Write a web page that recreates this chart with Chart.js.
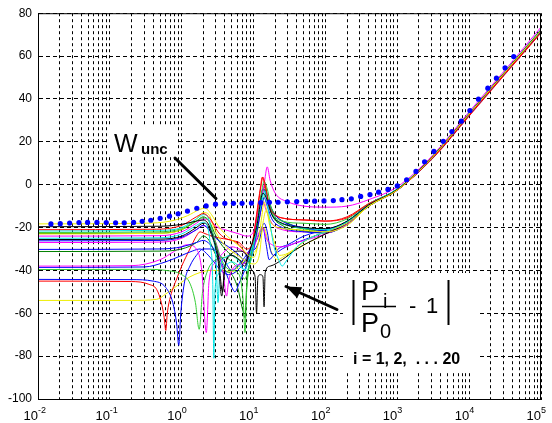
<!DOCTYPE html>
<html>
<head>
<meta charset="utf-8">
<script src="https://cdn.jsdelivr.net/npm/chart.js@4.4.1/dist/chart.umd.min.js"></script>
<style>
  html, body { margin: 0; padding: 0; background: #fff; }
  #wrap { width: 552px; height: 423px; }
</style>
</head>
<body>
<div id="wrap"><canvas id="c" width="552" height="423"></canvas></div>
<script>
// axis structure
const decades = [-2, -1, 0, 1, 2, 3, 4, 5];
const minorSteps = [1, 2, 3, 4, 5, 6, 7, 8, 9];
const yTicks = [80, 60, 40, 20, 0, -20, -40, -60, -80, -100];

// W_unc (dotted), log10 of frequency and dB
const wuncExp = [-1.82,-1.69,-1.56,-1.43,-1.31,-1.18,-1.05,-0.92,-0.80,-0.67,-0.55,-0.43,-0.30,-0.17,-0.05,0.08,0.21,0.34,0.47,0.60,0.72,0.84,0.97,1.10,1.22,1.34,1.47,1.60,1.73,1.85,1.98,2.11,2.23,2.36,2.49,2.62,2.74,2.87,3.00,3.13,3.26,3.38,3.51,3.64,3.76,3.89,4.01,4.13,4.26,4.38,4.50,4.62];
const wuncDb = [-18.3,-18.2,-17.9,-17.7,-17.6,-17.6,-17.7,-17.8,-17.8,-17.6,-17.1,-16.6,-15.7,-14.7,-13.6,-12.3,-11.0,-9.9,-9.1,-8.7,-8.7,-8.7,-8.6,-8.4,-8.2,-8.2,-8.0,-7.9,-7.8,-7.7,-7.6,-7.4,-7.0,-6.6,-5.5,-4.6,-3.5,-2.2,-0.6,2.3,6.2,10.7,15.5,20.2,24.8,29.6,34.6,39.9,45.0,49.7,54.5,59.8];

// |Pi/P0 - 1| curves, [Hz, dB]
const c1 = [[0.01,-18.3],[0.3,-18],[0.7,-17],[1.2,-14.5],[1.8,-11.5],[2.1,-11],[2.6,-14],[3.2,-19],[4,-23],[5.5,-27],[7,-30],[8.5,-33],[10,-34],[11.5,-28],[13,-15],[14,-8],[15,-11],[17,-17],[22,-20],[40,-21],[100,-22],[200,-19],[400,-10],[1000,-2.5],[3162,13.3],[1e4,33],[31623,52.5],[1e5,72]];
const c2 = [[0.01,-19.6],[0.5,-19.4],[1,-18.5],[1.6,-17],[2,-16.5],[2.4,-19],[2.8,-26],[3.2,-35],[3.6,-52],[4,-38],[5,-33],[6.3,-35],[7.5,-38],[9,-30],[11,-20],[13.5,-4],[15,-6],[18,-14],[25,-18],[50,-20],[100,-20.5],[200,-17],[400,-9.5],[1000,-2.2],[3162,13.5],[1e4,33.2],[31623,52.7],[1e5,72.2]];
const c3 = [[0.01,-21],[0.4,-20.8],[1,-19],[1.6,-15],[2,-13.5],[2.5,-16],[3.2,-22],[4,-25],[5,-26],[6.3,-27],[8,-30],[9.5,-28],[11,-15],[12.5,-2],[13.5,3.5],[14.5,0],[16.5,-10],[20,-14],[30,-16],[60,-16.5],[100,-17],[200,-15.5],[400,-9],[1000,-2.5],[3162,12.8],[1e4,32.5],[31623,52],[1e5,71]];
const c4 = [[0.01,-21.6],[0.5,-21.3],[1,-20],[1.6,-16],[2,-14],[2.3,-15],[2.6,-22],[3,-35],[3.2,-55],[3.4,-40],[4,-34],[5,-33],[6.3,-36],[7.5,-40],[9,-32],[11,-20],[13,-6],[14.5,-3],[16,-12],[19,-28],[23,-36],[25,-38],[28,-36],[40,-29],[70,-24],[100,-22],[200,-17],[400,-9],[1000,-2],[3162,13.5],[1e4,33.3],[31623,52.8],[1e5,72.5]];
const c5 = [[0.01,-22.3],[0.5,-22],[1,-20.5],[1.6,-17],[2,-15.5],[2.4,-17],[2.8,-24],[3.3,-32],[4,-38],[5,-40],[6.3,-42],[7.2,-55],[7.6,-69],[8,-50],[9,-35],[11,-20],[13,-3],[14,1.5],[15.5,-2],[18,-12],[25,-17],[50,-18],[100,-18.5],[200,-16],[400,-9],[1000,-2],[3162,13.5],[1e4,33],[31623,52.5],[1e5,72]];
const c6 = [[0.01,-23],[0.5,-22.7],[1,-21],[1.6,-16],[2,-13],[2.4,-14],[2.8,-20],[3.5,-26],[4.5,-30],[6,-33],[8,-36],[10,-37],[12,-33],[13.5,-18],[15,-12],[17,-20],[20,-28],[23,-33],[30,-32],[60,-25],[100,-22],[200,-18],[400,-10],[1000,-2.5],[3162,13],[1e4,33],[31623,52.5],[1e5,72]];
const c7 = [[0.01,-24],[0.5,-23.8],[1,-22],[1.6,-18],[2,-16],[2.5,-17],[3.2,-20],[4,-21],[5,-22],[6.3,-23],[8,-24],[10,-22],[12,-10],[14,0],[15.5,8.3],[17,2],[20,-4],[30,-8],[50,-10],[100,-10.5],[200,-10],[400,-7],[1000,-1],[3162,14],[1e4,34],[31623,53.5],[1e5,73.5]];
const c8 = [[0.01,-25],[0.5,-24.8],[1,-23],[1.6,-19],[2,-17.5],[2.3,-20],[2.5,-28],[2.7,-45],[2.8,-81],[2.9,-50],[3.2,-42],[4,-38],[5,-36],[6.3,-38],[8,-40],[9.5,-33],[11,-20],[13,-8],[14,-4],[16,-10],[20,-16],[30,-19],[60,-20.5],[100,-21],[200,-17.5],[400,-9.5],[1000,-2.3],[3162,13.2],[1e4,32.8],[31623,52.3],[1e5,71.8]];
const c9 = [[0.01,-25.6],[0.5,-25.4],[1,-24],[1.6,-20],[2,-18],[2.3,-19],[2.7,-25],[3.2,-32],[3.7,-50],[4,-38],[5,-32],[6.3,-31],[8,-33],[9.5,-40],[10.5,-43],[11,-60],[11.5,-43],[12.5,-42],[13.5,-43],[14,-57],[14.5,-41],[17,-38],[25,-35],[40,-30],[100,-23],[200,-18],[400,-10],[1000,-2.5],[3162,13],[1e4,32.8],[31623,52.2],[1e5,71.8]];
const c10 = [[0.01,-26.2],[0.5,-26],[1,-24.5],[1.6,-21],[2,-19],[2.4,-21],[3,-25],[4,-28],[5,-30],[6.3,-33],[8,-36],[10,-30],[12,-12],[13.5,-2],[15,-5],[18,-12],[25,-17],[50,-20],[100,-21.5],[200,-18],[400,-9.5],[1000,-2.4],[3162,13],[1e4,32.7],[31623,52.2],[1e5,71.5]];
const c11 = [[0.01,-27],[0.5,-26.8],[1,-25],[1.6,-21],[2,-19],[2.5,-22],[3.2,-30],[3.8,-42],[4.2,-52],[4.5,-45],[5.5,-38],[7,-37],[8.5,-35],[10,-30],[12,-22],[13.5,-20],[15,-25],[18,-28],[25,-29],[40,-27],[100,-23],[200,-18.5],[400,-10],[1000,-2.5],[3162,13],[1e4,33],[31623,52.5],[1e5,72.3]];
const c12 = [[0.01,-30.2],[0.5,-30],[1,-29],[1.6,-27],[2,-26],[2.5,-28],[3.2,-33],[4,-40],[5,-48],[5.5,-50],[6.3,-46],[7.5,-40],[9,-32],[11,-22],[13,-10],[14,-6],[15.5,-10],[18,-16],[25,-20],[50,-22],[100,-22.5],[200,-18.5],[400,-10],[1000,-2.5],[3162,12.8],[1e4,32.5],[31623,52],[1e5,71.3]];
const c13 = [[0.01,-31.2],[0.5,-31],[1,-30],[1.6,-27],[2,-24],[2.4,-26],[3,-33],[4,-40],[5,-42],[6,-48],[7,-58],[7.6,-62],[8,-48],[9,-35],[11,-22],[13,-6],[14,-2],[15.5,-6],[18,-14],[25,-19],[50,-21.5],[100,-22.5],[200,-18.5],[400,-10],[1000,-2.5],[3162,13],[1e4,32.7],[31623,52.3],[1e5,71.8]];
const c14 = [[0.01,-38],[0.2,-37.8],[0.5,-35],[0.8,-31],[1.2,-28],[1.6,-30],[1.9,-40],[2.2,-69],[2.4,-45],[3,-36],[4,-31],[5,-29],[6.3,-30],[8,-32],[10,-28],[12,-16],[13.5,-8],[15,-12],[18,-18],[25,-21],[50,-22],[100,-22],[200,-18],[400,-9.8],[1000,-2.3],[3162,13.3],[1e4,33],[31623,52.6],[1e5,72.4]];
const c15 = [[0.01,-38.6],[0.3,-38.4],[0.6,-36],[1,-33],[1.4,-31],[1.8,-30],[2.2,-32],[2.8,-36],[3.5,-40],[4.5,-42],[6,-40],[7.5,-36],[9,-31],[10.5,-30],[12,-26],[13.5,-20],[15,-28],[16.5,-35],[19,-33],[25,-30],[40,-27],[70,-24],[100,-22],[200,-18],[400,-10],[1000,-2.6],[3162,12.8],[1e4,32.5],[31623,52],[1e5,71.5]];
const c16 = [[0.01,-39.6],[0.3,-39.5],[0.6,-40],[1,-42],[1.3,-46],[1.55,-55],[1.75,-67.5],[1.95,-50],[2.3,-40],[3,-35],[4,-34],[5,-36],[6.3,-40],[7.5,-44],[9,-36],[11,-24],[13,-10],[14.5,-5],[16,-9],[20,-16],[30,-19],[60,-21],[100,-21.5],[200,-18],[400,-9.8],[1000,-2.4],[3162,13],[1e4,33],[31623,52.5],[1e5,72]];
const c17 = [[0.01,-44.2],[0.2,-44.3],[0.4,-45],[0.6,-48],[0.75,-55],[0.85,-65],[0.91,-75],[0.97,-60],[1.1,-45],[1.3,-38],[1.6,-33],[2,-30],[2.5,-30],[3.2,-32],[4,-36],[5,-40],[6,-38],[7.5,-34],[9,-30],[11,-26],[13,-20],[14,-18],[15.5,-22],[17,-30],[19,-33],[22,-30],[30,-28],[50,-24],[100,-21],[200,-17.5],[400,-9.5],[1000,-2.3],[3162,13.2],[1e4,32.8],[31623,52.3],[1e5,71.7]];
const c18 = [[0.01,-45],[0.2,-45.2],[0.35,-46.5],[0.45,-49],[0.52,-55],[0.57,-62],[0.6,-68],[0.63,-60],[0.7,-52],[0.85,-44],[1,-38],[1.3,-30],[1.6,-24],[1.8,-22],[2,-22.5],[2.6,-24],[3.5,-25],[5,-26],[6.3,-28],[8,-32],[9.5,-28],[11,-14],[12.5,-1],[13.2,3.5],[14,1],[15.5,-8],[18,-13],[25,-15.5],[50,-16.5],[100,-17],[200,-15],[400,-8.8],[1000,-2.2],[3162,12.5],[1e4,32],[31623,51.5],[1e5,70.8]];
const c19 = [[0.01,-54],[0.2,-54],[0.45,-53.5],[0.6,-51],[0.8,-48],[1,-45.5],[1.3,-43],[1.8,-41],[2.5,-40],[3.5,-40],[5,-40.5],[6.3,-38],[7.5,-35],[9,-33],[11,-30],[13,-22],[14,-20],[15.5,-25],[18,-32],[22,-35],[25,-34],[40,-30],[100,-23],[200,-18.5],[400,-10],[1000,-2.6],[3162,12.8],[1e4,32.5],[31623,52],[1e5,71.5]];
const c20 = [[0.01,-22.8],[0.5,-22.6],[1,-21],[1.6,-17],[2,-15],[2.4,-17],[3,-24],[4,-30],[5,-33],[6.3,-35],[8,-37],[9.5,-32],[11,-18],[13,-4],[14.5,-1],[16,-7],[20,-14],[30,-18],[60,-21],[100,-22],[200,-18],[400,-9.7],[1000,-2.4],[3162,13.1],[1e4,32.9],[31623,52.4],[1e5,72.1]];

const BLUE = '#0000ff', GREEN = '#008000', LIME = '#33cc33', RED = '#ff0000',
      CYAN = '#00e5e5', MAG = '#ff00ff', YEL = '#eeee00', BLK = '#000000';
const curves = [c1, c2, c3, c4, c5, c6, c7, c8, c9, c10, c11, c12, c13, c14, c15, c16, c17, c18, c19, c20];
const curveColors = [YEL, BLK, RED, CYAN, LIME, YEL, MAG, CYAN, BLK, BLUE, MAG, BLUE, GREEN, MAG, BLUE, LIME, BLUE, RED, YEL, GREEN];

const FONT = 'Arial, "Liberation Sans", sans-serif';

const datasets = [{
    label: 'Wunc',
    data: wuncExp.map((e, i) => ({ x: Math.pow(10, e), y: wuncDb[i] })),
    showLine: false,
    pointRadius: 2.6,
    pointBackgroundColor: BLUE,
    pointBorderColor: BLUE,
    pointBorderWidth: 0
}];
curves.forEach((c, i) => {
    datasets.push({
        label: 'P' + (i + 1),
        data: c.map(p => ({ x: p[0], y: p[1] })),
        borderColor: curveColors[i],
        borderWidth: 1,
        pointRadius: 0,
        cubicInterpolationMode: 'monotone',
        fill: false
    });
});

// white label boxes under the annotations
const labelBoxes = {
    id: 'labelBoxes',
    beforeDatasetsDraw(chart) {
        const ctx = chart.ctx;
        ctx.save();
        ctx.fillStyle = '#fff';
        ctx.fillRect(109, 127, 68, 30);
        ctx.fillRect(343, 273, 137, 99);
        ctx.restore();
    }
};

function arrowLine(ctx, x1, y1, x2, y2, head) {
    ctx.beginPath();
    ctx.moveTo(x1, y1);
    ctx.lineTo(x2, y2);
    ctx.stroke();
    if (!head) return;
    const dx = x2 - x1, dy = y2 - y1, len = Math.hypot(dx, dy);
    const ux = dx / len, uy = dy / len;
    const bx = x2 - ux * 15, by = y2 - uy * 15;
    ctx.beginPath();
    ctx.moveTo(x2, y2);
    ctx.lineTo(bx - uy * 6, by + ux * 6);
    ctx.lineTo(bx + uy * 6, by - ux * 6);
    ctx.closePath();
    ctx.fill();
}

const annotations = {
    id: 'annotations',
    afterDraw(chart) {
        const { ctx, chartArea, scales } = chart;
        ctx.save();
        // frame
        ctx.strokeStyle = '#000';
        ctx.lineWidth = 1;
        ctx.setLineDash([]);
        ctx.strokeRect(chartArea.left + 0.5, chartArea.top + 0.5,
            chartArea.right - chartArea.left - 1, chartArea.bottom - chartArea.top);

        // x tick labels 10^n
        ctx.fillStyle = '#000';
        decades.forEach(e => {
            const px = scales.x.getPixelForValue(Math.pow(10, e));
            ctx.font = '13px ' + FONT;
            ctx.textAlign = 'right';
            ctx.textBaseline = 'alphabetic';
            ctx.fillText('10', px, chartArea.bottom + 21);
            ctx.font = '9px ' + FONT;
            ctx.textAlign = 'left';
            ctx.fillText(String(e), px, chartArea.bottom + 14);
        });

        // W_unc label + pointer
        ctx.textAlign = 'left';
        ctx.font = '25px ' + FONT;
        ctx.fillText('W', 114, 152);
        ctx.font = 'bold 15px ' + FONT;
        ctx.fillText('unc', 141, 154);
        ctx.lineWidth = 3;
        ctx.lineCap = 'round';
        arrowLine(ctx, 175, 158, 216, 198.5, false);

        // |Pi/P0 - 1| label + arrow
        arrowLine(ctx, 337, 309.5, 286, 286.5, true);
        ctx.lineWidth = 2;
        ctx.lineCap = 'butt';
        ctx.beginPath();
        ctx.moveTo(353.5, 280); ctx.lineTo(353.5, 325);
        ctx.moveTo(448.5, 280); ctx.lineTo(448.5, 325);
        ctx.stroke();
        ctx.lineWidth = 1.3;
        ctx.beginPath();
        ctx.moveTo(362, 306.5); ctx.lineTo(396, 306.5);
        ctx.stroke();
        ctx.font = '27px ' + FONT;
        ctx.fillText('P', 361, 300);
        ctx.fillText('P', 361, 332);
        ctx.font = '20px ' + FONT;
        ctx.fillText('i', 383, 308);
        ctx.fillText('0', 380, 338);
        ctx.font = '22px ' + FONT;
        ctx.fillText('-', 409, 313);
        ctx.fillText('1', 426, 313);
        ctx.font = 'bold 16px ' + FONT;
        ctx.fillText('i = 1, 2,  . . . 20', 353, 364);
        ctx.restore();
    }
};

new Chart(document.getElementById('c'), {
    type: 'line',
    data: { datasets },
    options: {
        responsive: false,
        animation: false,
        devicePixelRatio: 1,
        layout: { padding: { top: 12, right: 11, left: 0, bottom: 0 } },
        plugins: { legend: { display: false }, tooltip: { enabled: false } },
        scales: {
            x: {
                type: 'logarithmic',
                min: 0.01,
                max: 1e5,
                afterBuildTicks: scale => {
                    const t = [];
                    decades.forEach(e => {
                        minorSteps.forEach(m => {
                            const v = m * Math.pow(10, e);
                            if (v <= 1e5 * 1.0001) t.push({ value: v });
                        });
                    });
                    scale.ticks = t;
                },
                afterFit: scale => { scale.height = 24; },
                ticks: { display: false },
                grid: { color: '#000', lineWidth: 1, drawTicks: false },
                border: { display: true, color: '#000', dash: [3, 3] }
            },
            y: {
                min: -100,
                max: 80,
                afterBuildTicks: scale => { scale.ticks = yTicks.map(v => ({ value: v })); },
                afterFit: scale => { scale.width = 38; },
                ticks: { color: '#000', padding: 6, font: { family: FONT, size: 12 } },
                grid: { color: '#000', lineWidth: 1, drawTicks: false },
                border: { display: true, color: '#000', dash: [4, 3] }
            }
        }
    },
    plugins: [labelBoxes, annotations]
});
</script>
</body>
</html>
